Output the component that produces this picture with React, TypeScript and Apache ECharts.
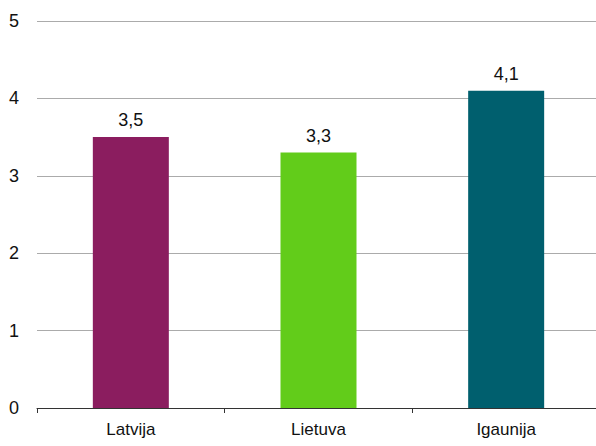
import React, { useEffect, useRef } from "react";
import * as echarts from "echarts";

const categories = ["Latvija", "Lietuva", "Igaunija"];
const values = [3.5, 3.3, 4.1];
const colors = ["#8B1D5F", "#62CC1A", "#005F6E"];
const yTicks = [0, 1, 2, 3, 4, 5];

const FONT = "'Liberation Sans Narrow', 'Liberation Sans', sans-serif";

export default function App() {
  const ref = useRef<HTMLDivElement>(null);
  useEffect(() => {
    if (!ref.current) return;
    const chart = echarts.init(ref.current, null, { renderer: "svg" });
    chart.setOption({
      animation: false,
      textStyle: { fontFamily: FONT },
      grid: { left: 37, top: 21, right: 0, bottom: 38, containLabel: false },
      xAxis: {
        type: "category",
        data: categories,
        axisLine: { show: true, lineStyle: { color: "#333", width: 1 } },
        axisTick: { show: true, alignWithLabel: false, length: 5, lineStyle: { color: "#333" } },
        axisLabel: { color: "#111", fontSize: 17, fontFamily: FONT, margin: 13 },
      },
      yAxis: {
        type: "value",
        min: yTicks[0],
        max: yTicks[yTicks.length - 1],
        interval: 1,
        axisLine: { show: false },
        axisTick: { show: false },
        axisLabel: { color: "#111", fontSize: 18, fontFamily: FONT, margin: 18 },
        splitLine: { show: true, lineStyle: { color: "#ababab", width: 1 } },
      },
      series: [
        {
          type: "bar",
          barWidth: 76,
          data: values.map((v, i) => ({ value: v, itemStyle: { color: colors[i] } })),
          label: {
            show: true,
            position: "top",
            distance: 8,
            color: "#111",
            fontSize: 18,
            fontFamily: FONT,
            formatter: (p: any) => String(p.value).replace(".", ","),
          },
        },
      ],
    });
    return () => chart.dispose();
  }, []);
  return (
    <div style={{ width: 596, height: 446, position: "absolute", left: 0, top: 0, overflow: "hidden" }}>
      <div ref={ref} style={{ width: 600, height: 446 }} />
    </div>
  );
}
